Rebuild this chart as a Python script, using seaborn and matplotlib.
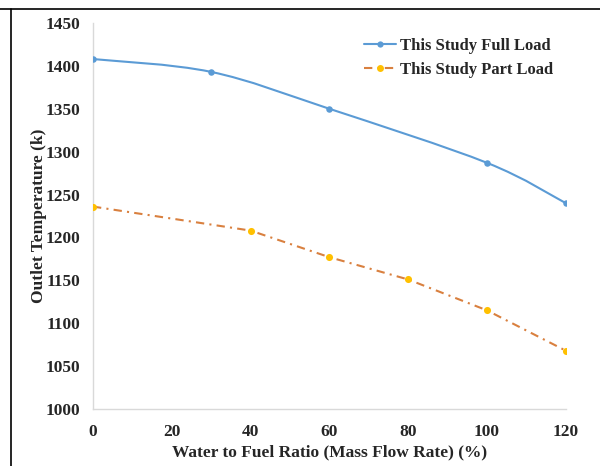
import numpy as np
import pandas as pd
import matplotlib
matplotlib.use("Agg")
import matplotlib.pyplot as plt
from matplotlib.path import Path
from matplotlib.patches import PathPatch
from matplotlib.lines import Line2D
import seaborn as sns

# Data
full_ratio = [0, 30, 60, 100, 120]
full_temp = [1408, 1393, 1350, 1287, 1240]
part_ratio = [0, 40, 60, 80, 100, 120]
part_temp = [1236, 1208, 1177, 1151, 1115, 1068]

x_ticks = [0, 20, 40, 60, 80, 100, 120]
y_ticks = list(range(1000, 1451, 50))

blue = "#5B9BD5"
orange = "#D9803F"
yellow = "#FFC000"
dashdot = (0, (4, 2.5, 1, 2.5))

sns.set_theme(style="white")
plt.rcParams["font.family"] = ["Liberation Serif", "DejaVu Serif"]
plt.rcParams["font.weight"] = "bold"


def smooth_path(xs, ys):
    # Excel-style smoothed line: cubic bezier through every point
    pts = np.column_stack([xs, ys]).astype(float)
    n = len(pts)
    verts = [pts[0]]
    codes = [Path.MOVETO]
    for i in range(n - 1):
        p0 = pts[i - 1] if i > 0 else pts[i]
        p1 = pts[i]
        p2 = pts[i + 1]
        p3 = pts[i + 2] if i + 2 < n else pts[i + 1]
        c1 = p1 + (p2 - p0) / 6
        c2 = p2 - (p3 - p1) / 6
        verts += [c1, c2, p2]
        codes += [Path.CURVE4] * 3
    return Path(verts, codes)


fig = plt.figure(figsize=(6, 4.66), dpi=100)
ax = fig.add_axes([0.155, 0.1223, 0.788, 0.8283])

# full load: smoothed line
ax.add_patch(PathPatch(smooth_path(full_ratio, full_temp), facecolor="none",
                       edgecolor=blue, lw=1.5, zorder=2))

full_df = pd.DataFrame({"ratio": full_ratio, "temp": full_temp})
part_df = pd.DataFrame({"ratio": part_ratio, "temp": part_temp})

# part load: straight dash-dot segments
sns.lineplot(data=part_df, x="ratio", y="temp", color=orange, lw=1.5,
             linestyle=dashdot, ax=ax, zorder=2)
sns.scatterplot(data=full_df, x="ratio", y="temp", color=blue, s=22,
                edgecolor=blue, linewidth=0, ax=ax, zorder=3)
sns.scatterplot(data=part_df, x="ratio", y="temp", color=yellow, s=26,
                edgecolor=yellow, linewidth=0, ax=ax, zorder=3)

ax.set_xlim(0, 120)
ax.set_ylim(1000, 1450)
ax.set_xticks(x_ticks)
ax.set_yticks(y_ticks)
ax.tick_params(axis="both", labelsize=12.5, length=0)
ax.tick_params(axis="y", pad=9)
ax.tick_params(axis="x", pad=11)
for lbl in ax.get_xticklabels() + ax.get_yticklabels():
    lbl.set_fontweight("bold")

for side in ["top", "right"]:
    ax.spines[side].set_visible(False)
for side in ["left", "bottom"]:
    ax.spines[side].set_color("#D9D9D9")
    ax.spines[side].set_linewidth(1)

ax.set_xlabel("Water to Fuel Ratio (Mass Flow Rate) (%)", fontsize=12.5,
              fontweight="bold", labelpad=3)
ax.set_ylabel("Outlet Temperature (k)", fontsize=12.5, fontweight="bold",
              labelpad=-1)

handles = [
    Line2D([], [], color=blue, lw=1.5, marker="o", markersize=4.5,
           markerfacecolor=blue, markeredgewidth=0),
    Line2D([], [], color=orange, lw=1.5, linestyle=dashdot,
           marker="o", markersize=5, markerfacecolor=yellow,
           markeredgewidth=0),
]
ax.legend(handles, ["This Study Full Load", "This Study Part Load"],
          loc="upper right", bbox_to_anchor=(1.005, 1.0), frameon=False,
          handlelength=1.9, handletextpad=0.25, labelspacing=0.45,
          prop={"weight": "bold", "size": 12})

# page frame around the figure
fig.add_artist(Line2D([0, 1], [1 - 9 / 466, 1 - 9 / 466], color="black",
                      lw=1.2, transform=fig.transFigure))
fig.add_artist(Line2D([11 / 600, 11 / 600], [0, 1 - 9 / 466], color="black",
                      lw=1.2, transform=fig.transFigure))

fig.savefig("out.png", dpi=100)
